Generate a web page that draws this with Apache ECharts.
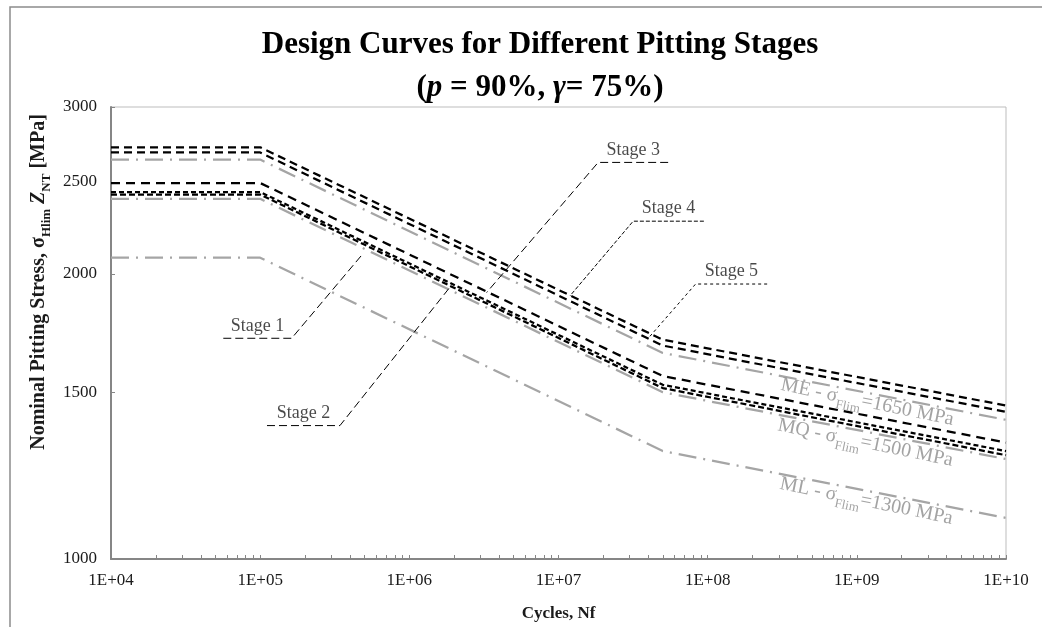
<!DOCTYPE html>
<html><head><meta charset="utf-8">
<script src="https://cdn.jsdelivr.net/npm/echarts@6/dist/echarts.min.js"></script>
<style>html,body{margin:0;padding:0;background:#fff}#chart{width:1042px;height:627px}</style>
</head><body><div id="chart"></div>
<script>
// ---- data (cycles N, stress in MPa) ----
const cycles = [1e4, 1e5, 5e7, 1e10];
const meCurve = [2640, 2640, 1650, 1402.5];
const mqCurve = [2400, 2400, 1500, 1275];
const mlCurve = [2080, 2080, 1300, 1105];
const stage1 = [2425, 2425, 1515, 1287];
const stage2 = [2440, 2440, 1527, 1300];
const stage3 = [2494, 2494, 1560, 1327];
const stage4 = [2720, 2720, 1704, 1452];
const stage5 = [2686, 2686, 1680, 1430];

// leader lines: outer end of underline, inner end of underline, point on curve
const leader1N = [56590, 162600, 490900];
const leader1S = [1710, 1710, 2102];
const leader2N = [111100, 342600, 1871000];
const leader2S = [1383, 1383, 1936];
const leader3N = [54330000, 18450000, 3296000];
const leader3S = [2622, 2622, 1911];
const leader4N = [94300000, 31670000, 11920000];
const leader4S = [2273, 2273, 1895];
const leader5N = [250500000, 82990000, 40990000];
const leader5S = [1951, 1951, 1718];
const stageNames = ['Stage 1', 'Stage 2', 'Stage 3', 'Stage 4', 'Stage 5'];

// curve label anchors
const curveLabelN = [1.167e9, 1.131e9, 1.149e9];
const curveLabelS = [1455, 1318, 1144];
const curveLabelNames = ['ME', 'MQ', 'ML'];
const curveLabelSigma = ['1650', '1500', '1300'];

// axis ticks
const yTickLabels = [1000, 1500, 2000, 2500, 3000];
const xDecades = [4, 5, 6, 7, 8, 9, 10];
const minorMult = [1, 2, 3, 4, 5, 6, 7, 8, 9];

const FONT = '"Liberation Serif","Times New Roman",serif';
const lg = v => Math.log10(v);
const pts = (xs, ys) => xs.map((x, i) => [lg(x), lg(ys[i])]);

const xTickVals = [];
xDecades.slice(0, -1).forEach(d => minorMult.forEach(m => xTickVals.push(d + lg(m))));
xTickVals.push(10);

const GRAY = '#a5a5a5';
const TXT = '#1a1a1a';

const designLine = (name, ys) => ({
  type: 'line', name, data: pts(cycles, ys), symbol: 'none', silent: true, z: 2,
  lineStyle: { color: GRAY, width: 2.25, type: [18, 7, 2, 7] }
});
const stageLine = (name, ys, dash) => ({
  type: 'line', name, data: pts(cycles, ys), symbol: 'none', silent: true, z: 3,
  lineStyle: { color: '#000', width: 2.25, type: dash }
});
const leaderLine = (ns, ss, dash) => ({
  type: 'line', data: pts(ns, ss), symbol: 'none', silent: true, z: 4,
  lineStyle: { color: '#000', width: 1, type: dash }
});

const leaders = [[leader1N, leader1S, [8, 4]], [leader2N, leader2S, [8, 4]], [leader3N, leader3S, [8, 4]],
                 [leader4N, leader4S, [4, 2]], [leader5N, leader5S, [3, 3]]];

const stageLabelData = leaders.map((l, i) => ({
  name: stageNames[i],
  value: [(lg(l[0][0]) + lg(l[0][1])) / 2, lg(l[1][0])]
}));

const curveLabelData = curveLabelNames.map((n, i) => ({
  name: n, sig: curveLabelSigma[i],
  value: [lg(curveLabelN[i]), lg(curveLabelS[i])]
}));

const chart = echarts.init(document.getElementById('chart'), null, { renderer: 'canvas' });
chart.setOption({
  animation: false,
  backgroundColor: '#fff',
  grid: { left: 111, right: 36, top: 107, bottom: 66, show: true, borderColor: '#bdbdbd', borderWidth: 1, containLabel: false },
  graphic: [
    { type: 'rect', z: -10, shape: { x: 10, y: 7, width: 1100, height: 700 },
      style: { fill: 'none', stroke: '#8c8c8c', lineWidth: 1.5 } },
    { type: 'text', x: 540, y: 66, z: 10,
      style: {
        text: '{b|Design Curves for Different Pitting Stages}\n{b|(}{i|p}{b| = 90%, }{i|γ}{b|= 75%)}',
        align: 'center', verticalAlign: 'middle', textAlign: 'center', textVerticalAlign: 'middle',
        rich: {
          b: { fontFamily: FONT, fontWeight: 'bold', fontSize: 31, lineHeight: 43, fill: '#000', color: '#000' },
          i: { fontFamily: FONT, fontWeight: 'bold', fontStyle: 'italic', fontSize: 31, lineHeight: 43, fill: '#000', color: '#000' }
        }
      } },
    { type: 'text', x: 41, y: 282, rotation: Math.PI / 2, z: 10,
      style: {
        text: '{a|Nominal Pitting Stress, σ}{s|Hlim}{a| }{z|Z}{s|NT}{a| [MPa]}',
        align: 'center', verticalAlign: 'middle', textAlign: 'center', textVerticalAlign: 'middle',
        rich: {
          a: { fontFamily: FONT, fontWeight: 'bold', fontSize: 20, fill: TXT, color: TXT, padding: [0, 0, 4, 0], verticalAlign: 'bottom' },
          z: { fontFamily: FONT, fontWeight: 'bold', fontStyle: 'italic', fontSize: 20, fill: TXT, color: TXT, padding: [0, 0, 4, 0], verticalAlign: 'bottom' },
          s: { fontFamily: FONT, fontWeight: 'bold', fontSize: 13, fill: TXT, color: TXT, verticalAlign: 'bottom' }
        }
      } }
  ],
  xAxis: {
    type: 'value', min: 4, max: 10, interval: 1,
    axisLine: { show: true, onZero: false, lineStyle: { color: '#868686', width: 2 } },
    axisTick: { show: true, inside: true, length: 4, customValues: xTickVals, lineStyle: { color: '#868686', width: 1 } },
    axisLabel: { margin: 13, fontFamily: FONT, fontSize: 17, color: TXT, showMinLabel: true, showMaxLabel: true,
      formatter: v => '1E+' + (v < 10 ? '0' : '') + Math.round(v) },
    splitLine: { show: false },
    name: 'Cycles, Nf', nameLocation: 'middle', nameGap: 46,
    nameTextStyle: { fontFamily: FONT, fontWeight: 'bold', fontSize: 17, color: TXT }
  },
  yAxis: {
    type: 'value', min: lg(1000), max: lg(3000),
    axisLine: { show: true, onZero: false, lineStyle: { color: '#868686', width: 2 } },
    axisTick: { show: true, inside: true, length: 4, customValues: yTickLabels.map(lg), lineStyle: { color: '#868686', width: 1 } },
    axisLabel: { customValues: yTickLabels.map(lg), margin: 14, fontFamily: FONT, fontSize: 17, color: TXT,
      showMinLabel: true, showMaxLabel: true, formatter: v => String(Math.round(Math.pow(10, v))) },
    splitLine: { show: false }
  },
  series: [
    designLine('ME', meCurve),
    designLine('MQ', mqCurve),
    designLine('ML', mlCurve),
    stageLine('Stage 1', stage1, [6, 3]),
    stageLine('Stage 2', stage2, [5, 3]),
    stageLine('Stage 3', stage3, [9, 6]),
    stageLine('Stage 4', stage4, [8, 5]),
    stageLine('Stage 5', stage5, [8, 5]),
    ...leaders.map(l => leaderLine(l[0], l[1], l[2])),
    {
      type: 'scatter', data: stageLabelData, symbolSize: 1, silent: true, z: 5,
      itemStyle: { color: 'rgba(0,0,0,0)' },
      label: { show: true, position: 'top', distance: 3, formatter: '{b}', fontFamily: FONT, fontSize: 18, color: TXT }
    },
    {
      type: 'scatter', data: curveLabelData, symbolSize: 1, silent: true, z: 5,
      itemStyle: { color: 'rgba(0,0,0,0)' },
      label: {
        show: true, position: 'inside', rotate: -11.5,
        formatter: p => '{a|' + p.name + ' - σ}{s|Flim}{a|=' + p.data.sig + ' MPa}',
        rich: {
          a: { fontFamily: FONT, fontSize: 20, color: '#8c8c8c', padding: [0, 0, 5, 0], verticalAlign: 'bottom' },
          s: { fontFamily: FONT, fontSize: 13, color: '#8c8c8c', verticalAlign: 'bottom' }
        }
      }
    }
  ]
});
</script>
</body></html>
